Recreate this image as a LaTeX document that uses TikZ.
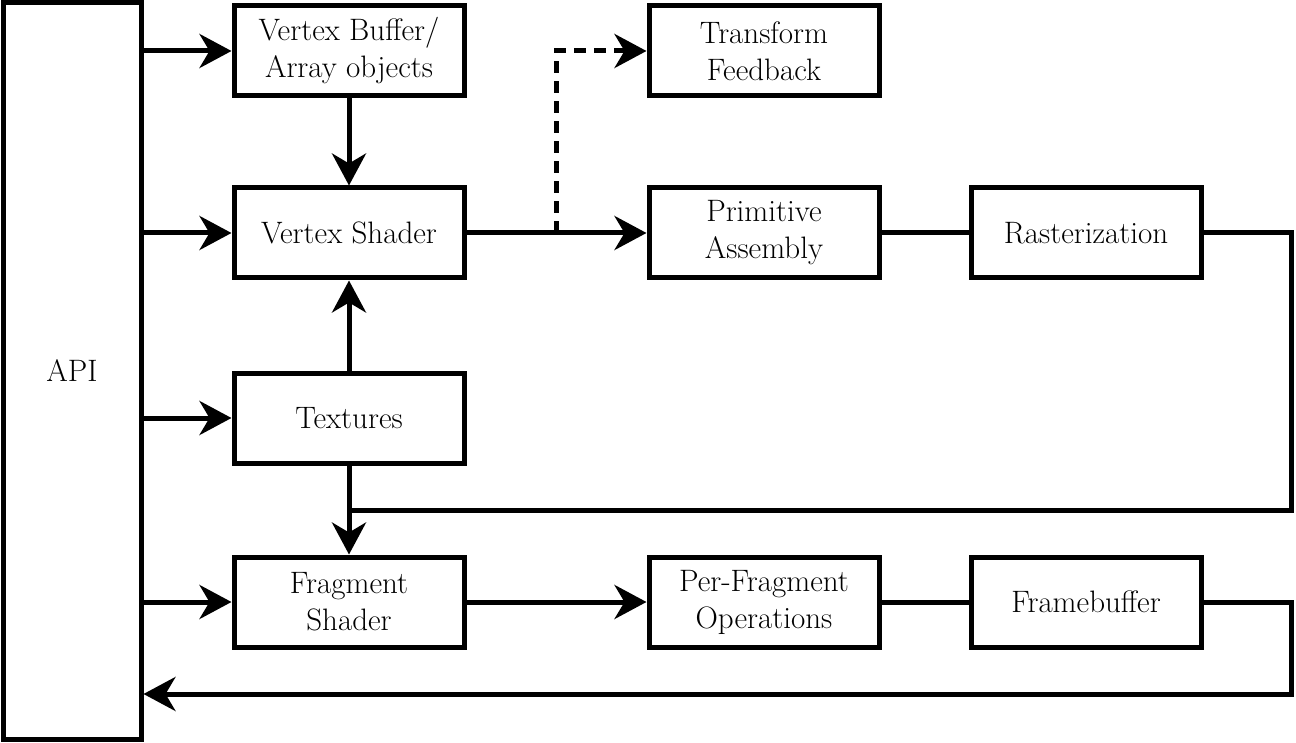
\documentclass[tikz,border=0pt]{standalone}
\usetikzlibrary{arrows.meta}
\begin{document}
\begin{tikzpicture}[x=1pt,y=-1pt,line width=5pt,
  box/.style={draw,minimum width=230pt,minimum height=90pt,inner sep=0pt,align=center,
    font=\fontsize{31}{37}\selectfont},
  arr/.style={-{Stealth[length=32pt,width=34pt,inset=10pt]}},
  dsh/.style={dash pattern=on 12pt off 8pt}]
\useasboundingbox (0,0) rectangle (1296,743);
\node[box,minimum width=138pt,minimum height=736pt] (api) at (72,371) {API};
\node[box] (vbo) at (349,51) {Vertex Buffer/\\Array objects};
\node[box] (vs) at (349,233) {Vertex Shader};
\node[box] (tex) at (349,418) {Textures};
\node[box] (fs) at (349,602) {Fragment\\Shader};
\node[box] (tf) at (764,51) {Transform\\Feedback};
\node[box] (pa) at (764,233) {Primitive\\Assembly};
\node[box] (ras) at (1086,233) {Rasterization};
\node[box] (pfo) at (764,602) {Per-Fragment\\Operations};
\node[box] (fb) at (1086,602) {Framebuffer};
\coordinate (split) at (556,233);
\coordinate (rr) at (1291,233);
\coordinate (rj) at (349,510);
\coordinate (fr) at (1291,602);
\coordinate (fl) at (1291,694);
\foreach \n in {vbo,vs,tex,fs}
  \draw[arr] (api.east |- \n.west) -- (\n.west);
\draw[arr] (vbo) -- (vs);
\draw[arr] (tex) -- (vs);
\draw[arr] (tex) -- (fs);
\draw[arr] (vs) -- (pa);
\draw[arr,dsh] (split) |- (tf.west);
\draw (pa) -- (ras);
\draw (ras.east) -- (rr) |- (rj);
\draw[arr] (fs) -- (pfo);
\draw (pfo) -- (fb);
\draw[arr] (fb.east) -- (fr) -- (fl) -- (api.east |- fl);
\end{tikzpicture}
\end{document}
